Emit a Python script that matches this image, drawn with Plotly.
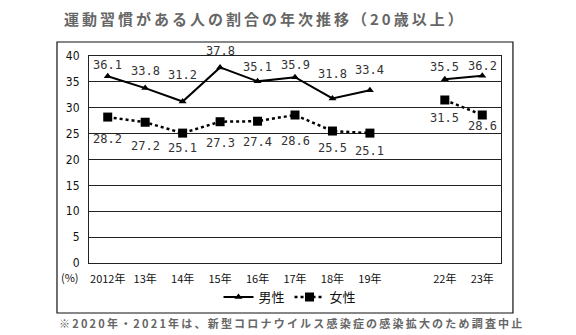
import plotly.graph_objects as go

# Survey years (2020 and 2021 were not surveyed; one spacer slot marks the break)
years = ["2012年", "13年", "14年", "15年", "16年", "17年", "18年", "19年", " ", "22年", "23年"]
male = [36.1, 33.8, 31.2, 37.8, 35.1, 35.9, 31.8, 33.4, None, 35.5, 36.2]
female = [28.2, 27.2, 25.1, 27.3, 27.4, 28.6, 25.5, 25.1, None, 31.5, 28.6]
y_ticks = [0, 5, 10, 15, 20, 25, 30, 35, 40]

# pixel offsets of the value labels from their points (men above, women below)
male_label_shift = [11, 17, 27, 16, 14, 12, 24, 20, 0, 12, 10]
female_label_shift = [-22, -24, -15, -21, -21, -26, -17, -18, 0, -18, -11]

title_text = "運動習慣がある人の割合の年次推移（20歳以上）"
note_text = "※2020年・2021年は、新型コロナウイルス感染症の感染拡大のため調査中止"

def spaced(s, sep="\u2009"):
    return sep.join(s)

ink = "#222222"
label_font = dict(family="DejaVu Sans Mono", size=12, color="#333333")

fig = go.Figure()

fig.add_trace(go.Scatter(
    x=years, y=male, name="男性", mode="lines+markers",
    line=dict(color="black", width=2),
    marker=dict(symbol="triangle-up", size=7, color="black"),
    connectgaps=False,
))
fig.add_trace(go.Scatter(
    x=years, y=female, name="女性", mode="lines+markers",
    line=dict(color="black", width=2.5, dash="dot"),
    marker=dict(symbol="square", size=9, color="black"),
    connectgaps=False,
))

# value labels
for series, shifts in ((male, male_label_shift), (female, female_label_shift)):
    for cat, val, dy in zip(years, series, shifts):
        if val is None:
            continue
        fig.add_annotation(x=cat, y=val, xref="x", yref="y", text=f"{val:.1f}",
                           showarrow=False, yshift=dy, xanchor="center", yanchor="middle",
                           font=label_font)

fig.update_xaxes(
    type="category", categoryorder="array", categoryarray=years,
    range=[-0.5, len(years) - 0.5],
    showgrid=False, showline=True, mirror=True, linecolor=ink, linewidth=1,
    ticks="", tickfont=dict(family="Noto Sans CJK JP", size=11, color="#111111"),
    ticklabelstandoff=6,
)
fig.update_yaxes(
    range=[0, 40], tickvals=y_ticks,
    showgrid=True, gridcolor=ink, gridwidth=1,
    showline=True, mirror=True, linecolor=ink, linewidth=1,
    zeroline=False, ticks="",
    tickfont=dict(family="DejaVu Sans Condensed", size=12, color="#111111"),
    ticklabelstandoff=6,
)

# outer frame around the chart and legend
fig.add_shape(type="rect", xref="paper", yref="paper",
              x0=-0.0777, x1=1.029, y0=-0.2415, y1=1.0676,
              line=dict(color="#111111", width=1.2), layer="below")

fig.add_annotation(text="(%)", xref="paper", yref="paper", x=(70 - 89) / 412, y=(263 - 277) / 207,
                   xanchor="center", yanchor="middle", showarrow=False,
                   font=dict(family="Noto Sans CJK JP", size=11, color="#111111"))
fig.add_annotation(text="<b>" + spaced(title_text) + "</b>", xref="paper", yref="paper",
                   x=(263 - 89) / 412, y=(263 - 18) / 207, xanchor="center", yanchor="middle",
                   showarrow=False, font=dict(family="Noto Sans CJK JP", size=15, color="#666666"))
fig.add_annotation(text="<b>" + spaced(note_text) + "</b>", xref="paper", yref="paper",
                   x=(290 - 89) / 412, y=(263 - 323) / 207, xanchor="center", yanchor="middle",
                   showarrow=False, font=dict(family="Noto Sans CJK JP", size=11, color="#666666"))

fig.update_layout(
    width=576, height=335,
    margin=dict(l=89, r=75, t=56, b=72),
    plot_bgcolor="white", paper_bgcolor="white",
    showlegend=True,
    legend=dict(orientation="h", xref="paper", yref="paper",
                x=(290 - 89) / 412, xanchor="center", y=(263 - 297) / 207, yanchor="middle",
                font=dict(family="Noto Sans CJK JP", size=13, color="#111111"),
                bgcolor="rgba(0,0,0,0)", itemwidth=30),
)

fig.write_html("out.html")
